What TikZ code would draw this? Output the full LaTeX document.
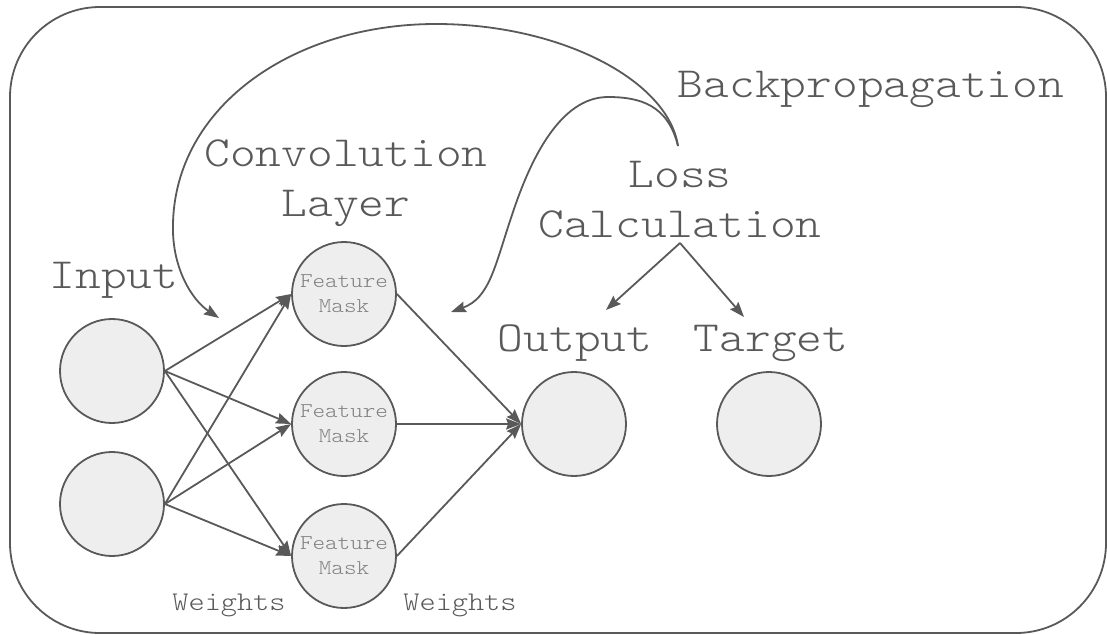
\documentclass[tikz,border=0pt]{standalone}
\usepackage{fontspec}
\setmonofont[FakeStretch=1.14]{lmmonolt10-regular.otf}
\usetikzlibrary{arrows.meta}
\definecolor{ink}{HTML}{595959}
\definecolor{disc}{HTML}{EEEEEE}
\definecolor{soft}{HTML}{808080}
\tikzset{
  neuron/.style={circle, draw=ink, fill=disc, line width=1.8pt, minimum size=104pt, inner sep=0pt,
    text=soft, align=center, font=\fontsize{21}{25}\selectfont\ttfamily},
  biglabel/.style={text=ink, align=center, anchor=base, inner sep=0pt,
    font=\fontsize{43}{50}\selectfont\ttfamily},
  weightlabel/.style={text=ink, anchor=base, inner sep=0pt,
    font=\fontsize{27}{30}\selectfont\ttfamily},
  link/.style={draw=ink, line width=1.8pt, -{Stealth[length=15pt,width=11pt,inset=2pt]}},
  frame/.style={draw=ink, line width=1.8pt, rounded corners=90pt}
}
\begin{document}
\begin{tikzpicture}[x=1pt,y=-1pt]
\useasboundingbox (0,0) rectangle (1107,634);
\draw[frame] (10,7) rectangle (1106,633);

% neurons
\node[neuron] (in1) at (112,371) {};
\node[neuron] (in2) at (112,504) {};
\node[neuron] (fm1) at (344,294) {Feature\\Mask};
\node[neuron] (fm2) at (344,424) {Feature\\Mask};
\node[neuron] (fm3) at (344,556) {Feature\\Mask};
\node[neuron] (out) at (574,424) {};
\node[neuron] (tgt) at (769,424) {};

% labels (multi-line nodes sit on the baseline of their last line)
\node[biglabel] (lin) at (114,288) {Input};
\node[biglabel] (lconv) at (346,216) {Convolution\\Layer};
\node[biglabel] (lloss) at (680,237) {Loss\\Calculation};
\node[biglabel] (lbp) at (871,97) {Backpropagation};
\node[biglabel] (lout) at (575,351) {Output};
\node[biglabel] (ltgt) at (771,351) {Target};
\node[weightlabel] (w1) at (229,610) {Weights};
\node[weightlabel] (w2) at (460,610) {Weights};

% input -> feature maps
\foreach \i in {in1,in2}
  \foreach \f in {fm1,fm2,fm3}
    \draw[link] (\i.east) -- (\f.west);
% feature maps -> output
\foreach \f in {fm1,fm2,fm3}
  \draw[link] (\f.east) -- (out.west);

% loss split
\coordinate (split) at (680,243);
\coordinate (toOut) at (606,310);
\coordinate (toTgt) at (744,317);
\draw[link] (split) -- (toOut);
\draw[link] (split) -- (toTgt);

% backpropagation curves
\coordinate (bpStart) at (678,146);
\coordinate (bpIn) at (219,318);
\coordinate (bpHid) at (451,312);
\draw[link] (bpStart) .. controls (668,80) and (560,24) .. (436,24)
  .. controls (290,24) and (170,110) .. (173,232)
  .. controls (174,270) and (192,300) .. (bpIn);
\draw[link] (bpStart) .. controls (668,105) and (640,97) .. (608,97)
  .. controls (560,97) and (530,160) .. (512,215)
  .. controls (495,265) and (490,298) .. (bpHid);
\end{tikzpicture}
\end{document}
